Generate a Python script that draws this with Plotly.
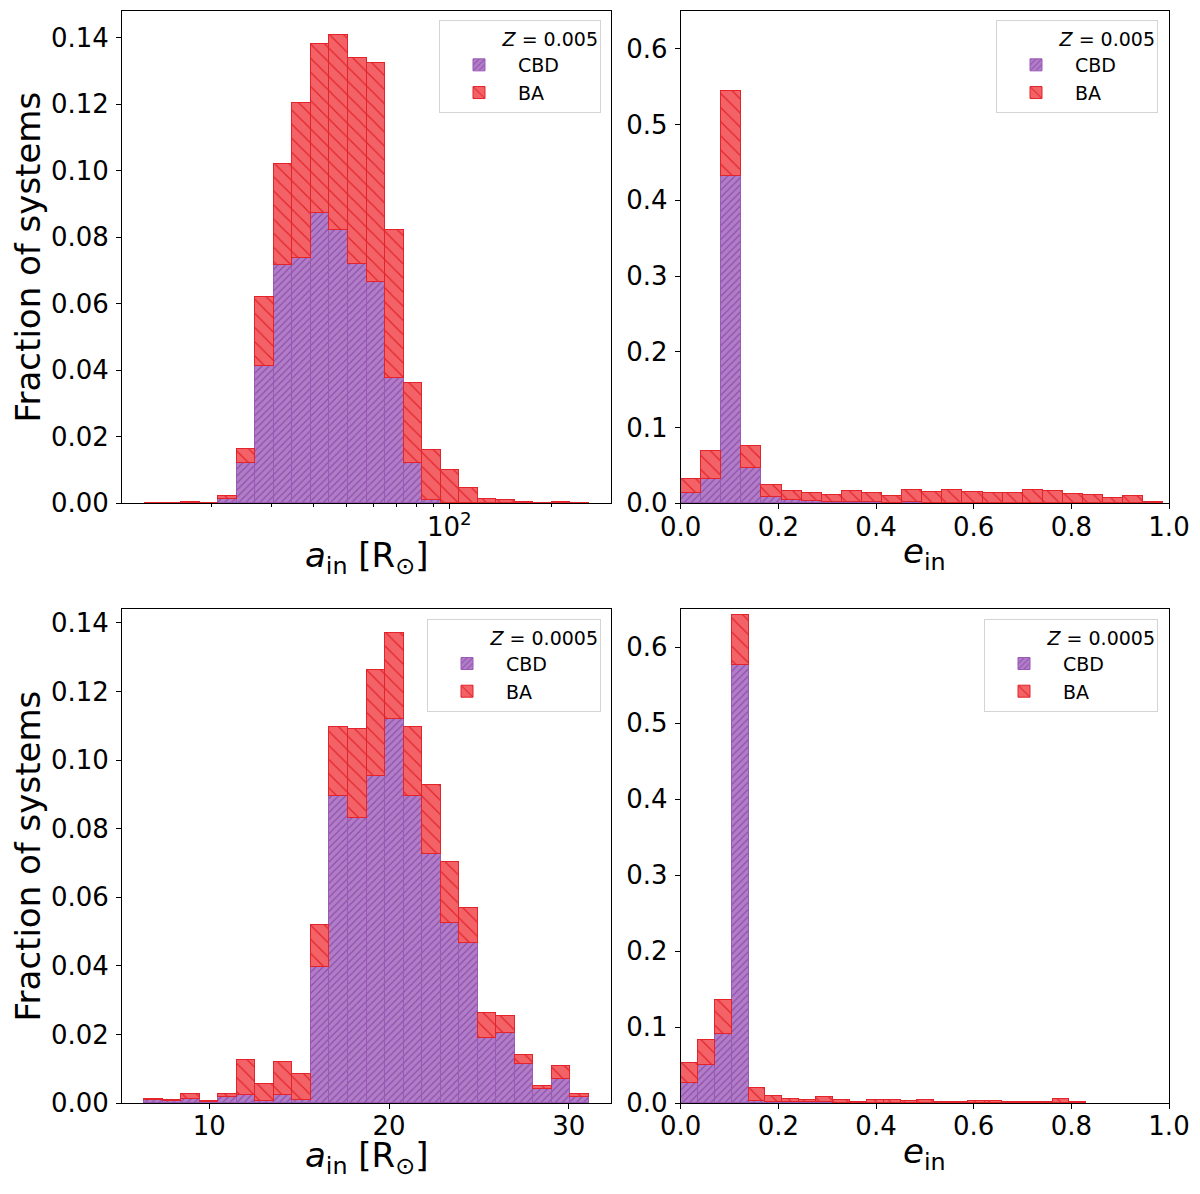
import numpy as np
import plotly.graph_objects as go
from plotly.subplots import make_subplots

N_BINS = 24

# --- Z = 0.005 ---
A_IN_RANGE_Z005 = (12.7, 257.0)   # R_sun, log-spaced bins
E_IN_RANGE_Z005 = (0.0, 0.988)
cbd_a_z005 = [0, 0, 0, 0, 0.0012, 0.0120, 0.0414, 0.0717, 0.0737, 0.0874, 0.0822, 0.0719,
              0.0664, 0.0378, 0.0120, 0.0011, 0, 0, 0, 0, 0, 0, 0, 0]
ba_a_z005 = [0.0002, 0.0002, 0.0004, 0, 0.0010, 0.0044, 0.0205, 0.0304, 0.0466, 0.0507, 0.0586, 0.0619,
             0.0660, 0.0443, 0.0241, 0.0148, 0.0101, 0.0047, 0.0013, 0.0011, 0.0005, 0, 0.0005, 0.0002]
cbd_e_z005 = [0.0136, 0.0327, 0.4326, 0.0472, 0.0082, 0.0045, 0.0027, 0.0023, 0.0018, 0.0014, 0.0009, 0.0014,
              0.0009, 0, 0, 0, 0, 0, 0, 0, 0, 0, 0, 0]
ba_e_z005 = [0.0191, 0.0363, 0.1112, 0.0282, 0.0154, 0.0123, 0.0109, 0.0090, 0.0150, 0.0122, 0.0082, 0.0168,
             0.0145, 0.0182, 0.0154, 0.0136, 0.0136, 0.0182, 0.0168, 0.0127, 0.0113, 0.0077, 0.0100, 0.0023]

# --- Z = 0.0005 ---
A_IN_RANGE_Z0005 = (6.38, 31.11)
E_IN_RANGE_Z0005 = (0.0, 0.830)
cbd_a_z0005 = [0.0009, 0.0006, 0.0010, 0.0003, 0.0017, 0.0023, 0.0005, 0.0023, 0.0009, 0.0397, 0.0895, 0.0831,
               0.0954, 0.1119, 0.0895, 0.0726, 0.0525, 0.0467, 0.0188, 0.0203, 0.0113, 0.0040, 0.0069, 0.0018]
ba_a_z0005 = [0.0003, 0.0001, 0.0015, 0.0002, 0.0008, 0.0102, 0.0050, 0.0096, 0.0076, 0.0121, 0.0202, 0.0260,
              0.0307, 0.0251, 0.0202, 0.0201, 0.0178, 0.0102, 0.0075, 0.0051, 0.0027, 0.0008, 0.0037, 0.0007]
cbd_e_z0005 = [0.0259, 0.0499, 0.0907, 0.5762, 0.0023, 0.0014, 0.0005, 0.0005, 0.0005, 0, 0, 0,
               0, 0, 0, 0, 0, 0, 0, 0, 0, 0, 0, 0]
ba_e_z0005 = [0.0263, 0.0327, 0.0450, 0.0663, 0.0177, 0.0072, 0.0049, 0.0036, 0.0077, 0.0041, 0.0014, 0.0041,
              0.0041, 0.0023, 0.0041, 0.0014, 0.0005, 0.0018, 0.0018, 0.0014, 0.0005, 0.0005, 0.0045, 0.0005]

LOG_MINOR_TICKS = [20, 30, 40, 50, 60, 70, 80, 90, 200]

A_LABEL = "<i>a</i><sub>in</sub> [R<sub>⊙</sub>]"
E_LABEL = "<i>e</i><sub>in</sub>"
Y_LABEL = "Fraction of systems"

CBD_FILL = "rgba(155,89,182,0.78)"
CBD_EDGE = "#9b59b6"
CBD_HATCH = "#8e4fae"
BA_FILL = "rgba(238,32,38,0.7)"
BA_EDGE = "#e3242b"
FONT = "DejaVu Sans"

# the page body adds an 8px offset, so the figure is a bit smaller than the window
OFF = 8
W, H = 1184, 1178
# screen-space frame of the four panels
X_L0, X_L1, X_R0, X_R1 = 122, 611, 680.7, 1169
Y_T0, Y_T1, Y_B0, Y_B1 = 10.7, 503.3, 609.3, 1103.3
M_L, M_T = X_L0 - OFF, Y_T0 - OFF
M_R, M_B = W - (X_R1 - OFF), H - (Y_B1 - OFF)
pw, ph = W - M_L - M_R, H - M_T - M_B


def fx(x_screen):
    return (x_screen - OFF - M_L) / pw


def fy(y_screen):
    return (H - M_B - (y_screen - OFF)) / ph


def bins(lo, hi):
    edges = np.linspace(lo, hi, N_BINS + 1)
    return (edges[:-1] + edges[1:]) / 2, np.diff(edges)


fig = make_subplots(rows=2, cols=2)

panels = [
    (1, 1, bins(np.log10(A_IN_RANGE_Z005[0]), np.log10(A_IN_RANGE_Z005[1])), cbd_a_z005, ba_a_z005, "legend"),
    (1, 2, bins(*E_IN_RANGE_Z005), cbd_e_z005, ba_e_z005, "legend2"),
    (2, 1, bins(*A_IN_RANGE_Z0005), cbd_a_z0005, ba_a_z0005, "legend3"),
    (2, 2, bins(*E_IN_RANGE_Z0005), cbd_e_z0005, ba_e_z0005, "legend4"),
]

for row, col, (centers, widths), cbd, ba, leg in panels:
    fig.add_trace(
        go.Bar(
            x=centers, y=cbd, width=widths, name="CBD", legend=leg,
            marker=dict(
                color=CBD_FILL,
                line=dict(color=CBD_EDGE, width=1),
                pattern=dict(shape="/", bgcolor=CBD_FILL, fgcolor=CBD_HATCH, size=5, solidity=0.25),
            ),
        ),
        row=row, col=col,
    )
    fig.add_trace(
        go.Bar(
            x=centers, y=ba, width=widths, name="BA", legend=leg,
            marker=dict(
                color=BA_FILL,
                line=dict(color=BA_EDGE, width=1),
                pattern=dict(shape="\\", bgcolor=BA_FILL, fgcolor=BA_EDGE, size=10, solidity=0.12),
            ),
        ),
        row=row, col=col,
    )

x_left = [0, fx(X_L1)]
x_right = [fx(X_R0), 1]
y_top = [fy(Y_T1), 1]
y_bot = [0, fy(Y_B0)]

axis_common = dict(
    showline=True, linecolor="black", linewidth=1, mirror=True,
    ticks="outside", ticklen=5, tickwidth=1, tickcolor="black",
    showgrid=False, zeroline=False, automargin=False,
    tickfont=dict(family=FONT, size=26, color="black"),
)
x_common = dict(axis_common, ticklabelstandoff=-5)
y_common = dict(axis_common, ticklabelstandoff=2)
y_title = dict(text=Y_LABEL, font=dict(family=FONT, size=34, color="black"), standoff=10)

log_lo, log_hi = np.log10(A_IN_RANGE_Z005[0]), np.log10(A_IN_RANGE_Z005[1])
pad = 0.05 * (log_hi - log_lo)
lin_pad = 0.05 * (A_IN_RANGE_Z0005[1] - A_IN_RANGE_Z0005[0])

fig.update_layout(
    xaxis=dict(
        x_common, domain=x_left, range=[log_lo - pad, log_hi + pad],
        tickmode="array", tickvals=[2], ticktext=["10<sup>2</sup>"],
        minor=dict(tickmode="array", tickvals=list(np.log10(LOG_MINOR_TICKS)), ticks="outside",
                   ticklen=3, tickcolor="black", showgrid=False),
    ),
    yaxis=dict(y_common, domain=y_top, range=[0, 0.148], dtick=0.02, tick0=0, tickformat=".2f", title=y_title),
    xaxis2=dict(x_common, domain=x_right, range=[0, 1], dtick=0.2, tick0=0, tickformat=".1f"),
    yaxis2=dict(y_common, domain=y_top, range=[0, 0.65], dtick=0.1, tick0=0, tickformat=".1f"),
    xaxis3=dict(
        x_common, domain=x_left,
        range=[A_IN_RANGE_Z0005[0] - lin_pad, A_IN_RANGE_Z0005[1] + lin_pad],
        tickvals=[10, 20, 30],
    ),
    yaxis3=dict(y_common, domain=y_bot, range=[0, 0.144], dtick=0.02, tick0=0, tickformat=".2f", title=y_title),
    xaxis4=dict(x_common, domain=x_right, range=[0, 1], dtick=0.2, tick0=0, tickformat=".1f"),
    yaxis4=dict(y_common, domain=y_bot, range=[0, 0.65], dtick=0.1, tick0=0, tickformat=".1f"),
)

# x labels sit tight under the tick labels, as in the original
for xref, text, y_screen in [("x domain", A_LABEL, 557), ("x2 domain", E_LABEL, 553),
                             ("x3 domain", A_LABEL, 1158), ("x4 domain", E_LABEL, 1154)]:
    fig.add_annotation(
        x=0.5, xref=xref, y=fy(y_screen), yref="paper", text=text, showarrow=False,
        xanchor="center", yanchor="middle", font=dict(family=FONT, size=34, color="black"),
    )


def legend_at(x_px, y_px, z_text):
    # leading no-break spaces widen the box like the matplotlib legend
    return dict(
        x=fx(x_px), y=fy(y_px), xanchor="right", yanchor="top",
        bgcolor="rgba(255,255,255,0.8)", bordercolor="#d4d4d4", borderwidth=1,
        font=dict(family=FONT, size=19, color="black"),
        title=dict(text="&nbsp;" * 10 + z_text, side="top right",
                   font=dict(family=FONT, size=19, color="black")),
        traceorder="normal", itemwidth=68,
    )


fig.update_layout(
    template="none",
    width=W, height=H,
    margin=dict(l=M_L, r=M_R, t=M_T, b=M_B),
    paper_bgcolor="white", plot_bgcolor="white",
    barmode="stack", bargap=0,
    font=dict(family=FONT, color="black"),
    showlegend=True,
    legend=legend_at(601, 20, "<i>Z</i> = 0.005"),
    legend2=legend_at(1158, 20, "<i>Z</i> = 0.005"),
    legend3=legend_at(601, 619, "<i>Z</i> = 0.0005"),
    legend4=legend_at(1158, 619, "<i>Z</i> = 0.0005"),
)

fig.write_html("out.html")
